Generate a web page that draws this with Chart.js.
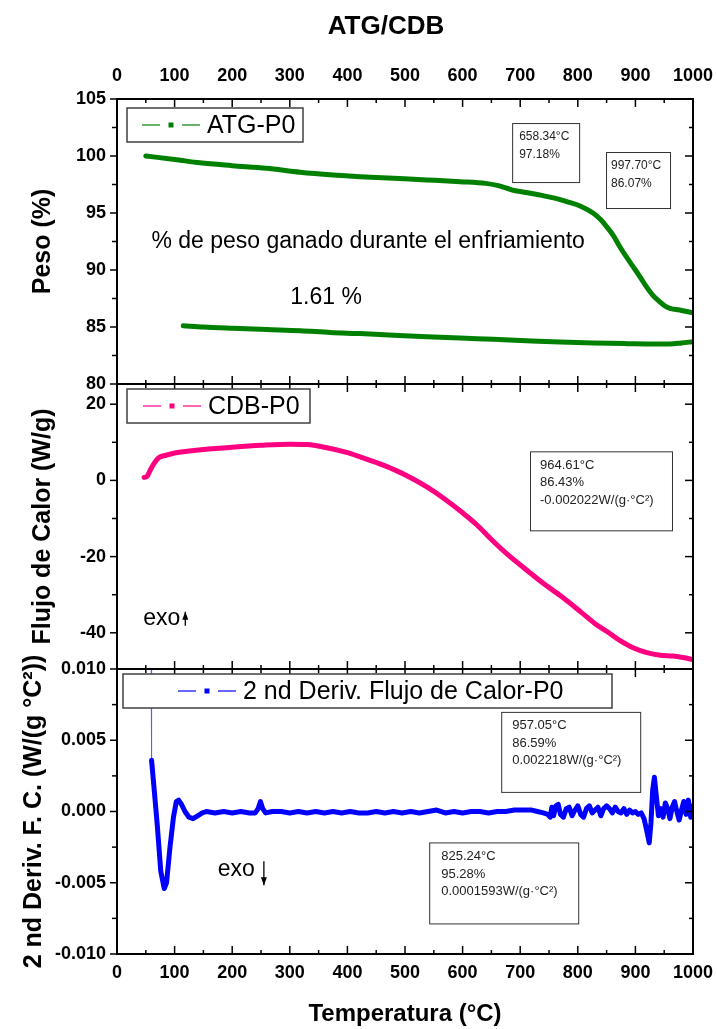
<!DOCTYPE html>
<html>
<head>
<meta charset="utf-8">
<title>ATG/CDB</title>
<script src="https://cdn.jsdelivr.net/npm/chart.js@4.4.1/dist/chart.umd.min.js"></script>
<style>
  html, body { margin: 0; padding: 0; background: #fff; }
  canvas { display: block; }
</style>
</head>
<body>
<canvas id="grafico" width="717" height="1029"></canvas>
<script>
// ATG: peso (%) durante el calentamiento
var tempCalent = [50, 100, 144, 200, 259, 318, 375, 422, 480, 538, 596, 640, 660, 677, 688, 710, 734, 760, 781, 805, 827, 840, 850, 862, 873, 885, 896, 908, 919, 930, 942, 951, 960, 980, 1000];
var pesoCalent = [100.0, 99.7, 99.4, 99.15, 98.92, 98.57, 98.33, 98.18, 98.04, 97.9, 97.75, 97.6, 97.42, 97.17, 97.0, 96.8, 96.58, 96.3, 96.0, 95.6, 94.97, 94.4, 93.8, 93.0, 92.04, 91.1, 90.29, 89.4, 88.54, 87.8, 87.22, 86.85, 86.64, 86.45, 86.25];

// ATG: peso (%) durante el enfriamiento
var tempEnfr = [115, 150, 202, 260, 318, 370, 422, 480, 538, 596, 653, 711, 769, 827, 885, 930, 960, 980, 1000];
var pesoEnfr = [85.11, 85.0, 84.89, 84.78, 84.68, 84.52, 84.42, 84.28, 84.15, 84.03, 83.92, 83.8, 83.68, 83.6, 83.54, 83.5, 83.51, 83.6, 83.71];

// CDB: flujo de calor (W/g)
var tempCDB = [47, 52, 58, 65, 72, 85, 100, 125, 150, 200, 250, 300, 330, 360, 400, 422, 450, 480, 510, 540, 570, 600, 625, 650, 680, 711, 740, 770, 805, 830, 850, 870, 896, 920, 943, 965, 980, 1000];
var flujoCDB = [0.8, 1.0, 2.8, 4.6, 5.9, 6.6, 7.2, 7.7, 8.1, 8.7, 9.2, 9.5, 9.4, 8.7, 7.3, 6.2, 4.7, 2.9, 0.7, -1.9, -5.0, -8.5, -11.7, -15.5, -19.7, -23.5, -27.0, -30.3, -34.5, -37.6, -39.6, -41.7, -43.9, -45.2, -45.9, -46.1, -46.4, -47.0];

// 2da derivada del flujo de calor (W/(g °C²))
var tempDeriv = [59.5, 60, 64, 70, 76, 82, 86, 92, 98, 103, 107, 112, 118, 125, 132, 140, 148, 155, 170, 185, 200, 215, 230, 240, 245, 249, 253, 258, 270, 285, 300, 315, 330, 345, 360, 375, 390, 405, 420, 435, 450, 465, 480, 495, 510, 525, 540, 555, 570, 585, 600, 615, 630, 645, 660, 675, 690, 700, 710, 720, 730, 740, 748, 752, 755, 758, 762, 766, 770, 775, 780, 785, 790, 795, 800, 805, 810, 815, 820, 825, 830, 835, 840, 845, 850, 855, 860, 865, 870, 875, 880, 885, 890, 895, 900, 905, 910, 915, 920, 924, 927, 930, 933, 936, 940, 944, 948, 952, 956, 960, 964, 968, 972, 976, 980, 984, 988, 992, 996, 1000];
var deriv2 = [0.0100, 0.0036, 0.0018, -0.0010, -0.0042, -0.0054, -0.0050, -0.0025, -0.0004, 0.0007, 0.0008, 0.0005, 0.0000, -0.0004, -0.0005, -0.0003, -0.0001, 0.0000, -0.0001, 0.0000, -0.0001, 0.0000, -0.0001, -0.0001, 0.0002, 0.0007, 0.0002, -0.0001, 0.0000, 0.0000, -0.0001, 0.0000, -0.0001, 0.0000, -0.0001, 0.0000, -0.0001, 0.0000, -0.0001, -0.0001, 0.0000, -0.0001, 0.0000, -0.0001, 0.0000, -0.0001, 0.0000, 0.0001, -0.0001, 0.0000, -0.0001, 0.0000, 0.0000, -0.0001, 0.0000, 0.0000, 0.0001, 0.0001, 0.0001, 0.0001, 0.0000, -0.0001, -0.0002, -0.0004, 0.0003, -0.0003, 0.0004, 0.0005, -0.0002, -0.0004, 0.0002, 0.0003, -0.0003, 0.0001, 0.0004, -0.0002, -0.0004, 0.0002, 0.0004, -0.0001, 0.0001, 0.0003, -0.0003, 0.0002, 0.0004, 0.0002, -0.0001, 0.0003, 0.0000, -0.0001, 0.0002, -0.0002, 0.0001, -0.0001, 0.0000, -0.0002, -0.0001, -0.0005, -0.0014, -0.0022, -0.0008, 0.0015, 0.0024, 0.0012, -0.0003, 0.0002, -0.0004, 0.0006, 0.0002, -0.0005, 0.0003, 0.0007, 0.0000, -0.0006, 0.0001, 0.0007, -0.0002, 0.0008, -0.0004, 0.0004];

// etiquetas de los ejes
var ticksTemp = [0, 100, 200, 300, 400, 500, 600, 700, 800, 900, 1000];
var ticksPeso = [80, 85, 90, 95, 100, 105];
var ticksFlujo = [-40, -20, 0, 20];
var ticksDeriv = [-0.010, -0.005, 0.000, 0.005, 0.010];

var VERDE = 'rgb(0,128,0)';
var ROSA = 'rgb(255,0,128)';
var AZUL = 'rgb(0,0,255)';
var FUENTE = "'Liberation Sans', Arial, sans-serif";

Chart.defaults.font.family = FUENTE;
Chart.defaults.color = '#000';

function puntos(xs, ys) {
  return xs.map(function (x, i) { return { x: x, y: ys[i] }; });
}

function fijarTicks(valores) {
  return function (s) { s.ticks = valores.map(function (v) { return { value: v }; }); };
}

function linea(ctx, x1, y1, x2, y2) {
  ctx.beginPath();
  ctx.moveTo(x1, y1);
  ctx.lineTo(x2, y2);
  ctx.stroke();
}

// un panel por eje y, con su paso de marcas menores
var paneles = [
  { eje: 'y1', paso: 2.5 },
  { eje: 'y2', paso: 10 },
  { eje: 'y3', paso: 0.0025 }
];

var leyendas = [
  { eje: 'y1', texto: 'ATG-P0', color: VERDE, dx: 10, dy: 9, ancho: 176, muestra: 15 },
  { eje: 'y2', texto: 'CDB-P0', color: ROSA, dx: 10, dy: 5, ancho: 183, muestra: 16 },
  { eje: 'y3', texto: '2 nd Deriv. Flujo de Calor-P0', color: AZUL, dx: 6, dy: 5, ancho: 489, muestra: 55 }
];

// recuadros con valores
var notas = [
  { eje: 'y1', t: 686, v: 102.89, ancho: 67, alto: 59, pad: 7, fuente: 12, lineas: ['658.34°C', '97.18%'] },
  { eje: 'y1', t: 849, v: 100.35, ancho: 64, alto: 56, pad: 5, fuente: 12, lineas: ['997.70°C', '86.07%'] },
  { eje: 'y2', t: 717, v: 7.63, ancho: 142, alto: 79, pad: 10, fuente: 13, lineas: ['964.61°C', '86.43%', '-0.002022W/(g·°C²)'] },
  { eje: 'y3', t: 667, v: 0.00699, ancho: 139, alto: 80, pad: 11, fuente: 13, lineas: ['957.05°C', '86.59%', '0.002218W/(g·°C²)'] },
  { eje: 'y3', t: 542, v: -0.00217, ancho: 149, alto: 81, pad: 12, fuente: 13, lineas: ['825.24°C', '95.28%', '0.0001593W/(g·°C²)'] }
];

var textos = [
  { eje: 'y1', t: 436, v: 92.46, texto: '% de peso ganado durante el enfriamiento', alinear: 'center' },
  { eje: 'y1', t: 363, v: 87.54, texto: '1.61 %', alinear: 'center' },
  { eje: 'y2', t: 45.5, v: -36.3, texto: 'exo', alinear: 'left', flecha: -1, sep: 5, arriba: 7, abajo: 7 },
  { eje: 'y3', t: 175, v: -0.00406, texto: 'exo', alinear: 'left', flecha: 1, sep: 9, arriba: 8, abajo: 16 }
];

var decoracion = {
  id: 'decoracion',
  afterDraw: function (chart) {
    var ctx = chart.ctx;
    var area = chart.chartArea;
    var sx = chart.scales.x;
    ctx.save();
    ctx.strokeStyle = '#000';

    // titulo general, un poco a la izquierda del centro
    ctx.fillStyle = '#000';
    ctx.font = 'bold 26px ' + FUENTE;
    ctx.textAlign = 'center';
    ctx.textBaseline = 'middle';
    ctx.fillText('ATG/CDB', sx.getPixelForValue(467), 27);

    // marcos y marcas de cada panel
    paneles.forEach(function (p) {
      var s = chart.scales[p.eje];
      ctx.lineWidth = 1.5;
      for (var t = 0; t <= 1000; t += 50) {
        var px = sx.getPixelForValue(t);
        var l = t % 100 === 0 ? 8 : 4;
        linea(ctx, px, s.top, px, s.top + l);
        linea(ctx, px, s.bottom, px, s.bottom - l);
      }
      var k0 = Math.ceil(s.min / p.paso - 1e-9);
      var k1 = Math.floor(s.max / p.paso + 1e-9);
      for (var k = k0; k <= k1; k++) {
        var py = s.getPixelForValue(k * p.paso);
        var mayor = k % 2 === 0;
        linea(ctx, area.left - (mayor ? 7 : 5), py, area.left, py);
        linea(ctx, area.right, py, area.right - (mayor ? 8 : 4), py);
      }
      ctx.lineWidth = 2;
      ctx.strokeRect(area.left, s.top, area.right - area.left, s.bottom - s.top);
    });

    // leyendas
    leyendas.forEach(function (lg) {
      var s = chart.scales[lg.eje];
      var x0 = area.left + lg.dx, y0 = s.top + lg.dy, alto = 34;
      ctx.fillStyle = '#fff';
      ctx.fillRect(x0, y0, lg.ancho, alto);
      ctx.strokeStyle = '#404040';
      ctx.lineWidth = 1.5;
      ctx.strokeRect(x0, y0, lg.ancho, alto);
      var cy = y0 + alto / 2;
      var m = x0 + lg.muestra;
      ctx.strokeStyle = lg.color;
      ctx.lineWidth = 1.2;
      linea(ctx, m, cy, m + 18, cy);
      linea(ctx, m + 40, cy, m + 58, cy);
      ctx.fillStyle = lg.color;
      ctx.fillRect(m + 26.5, cy - 2.5, 5, 5);
      ctx.fillStyle = '#000';
      ctx.font = '25px ' + FUENTE;
      ctx.textAlign = 'left';
      ctx.textBaseline = 'middle';
      ctx.fillText(lg.texto, m + 65, cy + 1);
    });

    // recuadros de valores
    notas.forEach(function (n) {
      var s = chart.scales[n.eje];
      var x0 = sx.getPixelForValue(n.t), y0 = s.getPixelForValue(n.v);
      ctx.fillStyle = '#fff';
      ctx.fillRect(x0, y0, n.ancho, n.alto);
      ctx.strokeStyle = '#333';
      ctx.lineWidth = 1;
      ctx.strokeRect(x0 + 0.5, y0 + 0.5, n.ancho, n.alto);
      ctx.fillStyle = '#222';
      ctx.font = n.fuente + 'px ' + FUENTE;
      ctx.textAlign = 'left';
      ctx.textBaseline = 'middle';
      n.lineas.forEach(function (txt, i) {
        ctx.fillText(txt, x0 + n.pad, y0 + 14 + i * 17.5);
      });
    });

    // textos sueltos y flechas exo
    textos.forEach(function (tx) {
      var s = chart.scales[tx.eje];
      var x0 = sx.getPixelForValue(tx.t), y0 = s.getPixelForValue(tx.v);
      ctx.fillStyle = '#000';
      ctx.font = '23px ' + FUENTE;
      ctx.textAlign = tx.alinear;
      ctx.textBaseline = 'middle';
      ctx.fillText(tx.texto, x0, y0);
      if (tx.flecha) {
        var ax = x0 + ctx.measureText(tx.texto).width + tx.sep;
        var ya = y0 - tx.arriba, yb = y0 + tx.abajo;
        ctx.strokeStyle = '#000';
        ctx.lineWidth = 1.3;
        linea(ctx, ax, ya, ax, yb);
        var punta = tx.flecha < 0 ? ya : yb;
        ctx.beginPath();
        ctx.moveTo(ax, punta);
        ctx.lineTo(ax - 3, punta - tx.flecha * 8);
        ctx.lineTo(ax + 3, punta - tx.flecha * 8);
        ctx.closePath();
        ctx.fill();
      }
    });
    ctx.restore();
  }
};

var fuenteTicks = { family: FUENTE, size: 18, weight: 'bold' };
var fuenteTitulo = { family: FUENTE, size: 25, weight: 'bold' };

function sinComa(v) { return String(v); }

function ejeY(min, max, valores, titulo, peso, sep, formato) {
  return {
    type: 'linear',
    position: 'left',
    stack: 'paneles',
    stackWeight: 1,
    weight: peso,
    min: min,
    max: max,
    afterBuildTicks: fijarTicks(valores),
    afterFit: function (s) { s.width = 117; s.paddingTop = 0; s.paddingBottom = 0; },
    grid: { display: false, drawTicks: false },
    border: { display: false },
    ticks: {
      font: fuenteTicks, color: '#000', padding: 11, autoSkip: false,
      callback: formato || sinComa
    },
    title: { display: true, text: titulo, font: fuenteTitulo, color: '#000', padding: { top: sep, bottom: 0 } }
  };
}

function ejeX(posicion, alto, sep, titulo) {
  return {
    type: 'linear', axis: 'x', position: posicion, min: 0, max: 1000,
    afterBuildTicks: fijarTicks(ticksTemp),
    afterFit: function (s) { s.height = alto; s.paddingLeft = 0; s.paddingRight = 0; },
    grid: { display: false, drawTicks: false },
    border: { display: false },
    ticks: { font: fuenteTicks, color: '#000', padding: sep, maxRotation: 0, autoSkip: false, callback: sinComa },
    title: titulo
  };
}

var ctx = document.getElementById('grafico').getContext('2d');
new Chart(ctx, {
  type: 'line',
  data: {
    datasets: [
      {
        label: 'ATG-P0', data: puntos(tempCalent, pesoCalent), yAxisID: 'y1',
        borderColor: VERDE, borderWidth: 5, cubicInterpolationMode: 'monotone'
      },
      {
        label: 'ATG-P0 enfriamiento', data: puntos(tempEnfr, pesoEnfr), yAxisID: 'y1',
        borderColor: VERDE, borderWidth: 5, cubicInterpolationMode: 'monotone'
      },
      {
        label: 'CDB-P0', data: puntos(tempCDB, flujoCDB), yAxisID: 'y2',
        borderColor: ROSA, borderWidth: 5, cubicInterpolationMode: 'monotone'
      },
      {
        label: '2 nd Deriv. Flujo de Calor-P0', data: puntos(tempDeriv, deriv2), yAxisID: 'y3',
        borderColor: AZUL, borderWidth: 5, tension: 0,
        segment: {
          borderWidth: function (c) { return c.p0DataIndex === 0 ? 1 : 5; },
          borderColor: function (c) { return c.p0DataIndex === 0 ? 'rgb(90,90,255)' : AZUL; }
        }
      }
    ]
  },
  options: {
    responsive: false,
    animation: false,
    events: [],
    layout: { padding: { left: 0, right: 24, top: 0, bottom: 0 } },
    elements: {
      point: { radius: 0 },
      line: { borderJoinStyle: 'round', borderCapStyle: 'round', fill: false }
    },
    plugins: { legend: { display: false }, tooltip: { enabled: false } },
    scales: {
      x: ejeX('bottom', 75, 8, {
        display: true, text: 'Temperatura (°C)', color: '#000',
        font: { family: FUENTE, size: 24, weight: 'bold' }, padding: { top: 0, bottom: 0 }
      }),
      x2: ejeX('top', 99, 12, { display: false }),
      y1: ejeY(80, 105, ticksPeso, 'Peso (%)', 3, 28),
      y2: ejeY(-49.5, 25.3, ticksFlujo, 'Flujo de Calor (W/g)', 2, 28),
      y3: ejeY(-0.010, 0.010, ticksDeriv, '2 nd Deriv. F. C. (W/(g °C²))', 1, 19,
        function (v) { return v.toFixed(3); })
    }
  },
  plugins: [decoracion]
});
</script>
</body>
</html>
